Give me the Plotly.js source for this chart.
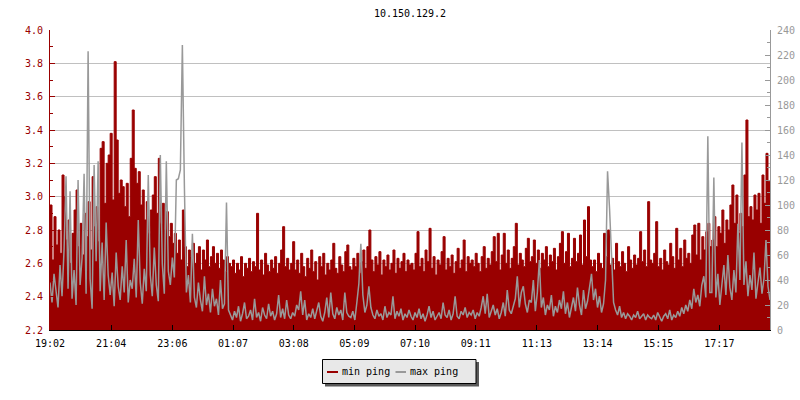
<!DOCTYPE html>
<html>
<head>
<meta charset="utf-8">
<script src="https://cdn.plot.ly/plotly-3.0.1.min.js"></script>
<style>html,body{margin:0;padding:0;background:#fff;}#chart{width:800px;height:400px;}</style>
</head>
<body>
<div id="chart"></div>
<script>
const chartTitle = '10.150.129.2';
const startTime = '19:02';
const stepMinutes = 4;
const timeLabels = ['19:02','21:04','23:06','01:07','03:08','05:09','07:10','09:11','11:13','13:14','15:15','17:17'];
const leftTicks = [2.2, 2.4, 2.6, 2.8, 3.0, 3.2, 3.4, 3.6, 3.8, 4.0];
const rightTicks = [0, 20, 40, 60, 80, 100, 120, 140, 160, 180, 200, 220, 240];
const seriesNames = ['min ping', 'max ping'];

// min ping (left axis), one value every 4 minutes
const minPing = [
2.95,2.62,2.88,2.71,2.80,2.66,3.13,3.00,2.74,2.86,2.60,2.78,2.92,3.04,2.70,2.84,2.65,2.90,2.76,2.97,2.68,3.12,2.82,2.94,2.73,3.29,3.33,2.96,3.20,3.25,
3.38,2.98,3.81,3.34,3.02,3.10,3.06,2.94,3.08,2.88,3.23,3.52,3.17,3.08,3.15,2.95,3.04,2.86,2.97,2.78,2.92,3.01,3.12,2.90,3.23,2.84,2.96,2.80,2.91,2.76,
2.84,2.72,2.78,2.66,2.74,2.62,2.92,2.70,2.58,2.68,2.64,2.72,2.60,2.66,2.70,2.56,2.68,2.62,2.74,2.58,2.64,2.70,2.60,2.66,2.57,2.68,2.62,2.55,2.64,2.60,
2.58,2.62,2.54,2.60,2.56,2.64,2.52,2.60,2.57,2.63,2.55,2.61,2.58,2.90,2.56,2.62,2.53,2.66,2.59,2.55,2.62,2.57,2.64,2.54,2.60,2.68,2.82,2.58,2.63,2.56,
2.60,2.73,2.56,2.62,2.54,2.66,2.58,2.52,2.63,2.57,2.68,2.55,2.61,2.50,2.64,2.58,2.66,2.53,2.60,2.56,2.62,2.72,2.57,2.54,2.64,2.59,2.55,2.67,2.71,2.58,
2.56,2.63,2.58,2.66,2.54,2.61,2.68,2.57,2.70,2.80,2.62,2.55,2.64,2.59,2.67,2.53,2.62,2.58,2.65,2.56,2.60,2.68,2.54,2.63,2.57,2.61,2.66,2.55,2.62,2.59,
2.60,2.56,2.66,2.79,2.58,2.63,2.55,2.68,2.61,2.81,2.57,2.64,2.53,2.62,2.59,2.67,2.76,2.56,2.63,2.58,2.65,2.54,2.61,2.69,2.57,2.62,2.74,2.55,2.64,2.60,
2.62,2.58,2.66,2.60,2.55,2.64,2.70,2.57,2.63,2.59,2.67,2.76,2.61,2.78,2.56,2.65,2.78,2.60,2.68,2.57,2.63,2.70,2.84,2.59,2.66,2.62,2.58,2.69,2.75,2.61,
2.64,2.74,2.60,2.68,2.57,2.66,2.62,2.70,2.58,2.65,2.61,2.69,2.56,2.64,2.72,2.79,2.60,2.67,2.78,2.58,2.63,2.75,2.61,2.66,2.77,2.59,2.86,2.64,2.94,2.62,
2.58,2.62,2.55,2.66,2.60,2.57,2.78,2.64,2.80,2.59,2.63,2.56,2.72,2.61,2.58,2.67,2.60,2.55,2.70,2.62,2.57,2.65,2.59,2.63,2.79,2.61,2.68,2.58,2.97,2.62,
2.60,2.66,2.85,2.58,2.63,2.56,2.68,2.61,2.59,2.72,2.64,2.57,2.81,2.62,2.69,2.58,2.74,2.63,2.66,2.60,2.77,2.83,2.65,2.84,2.62,2.76,2.68,2.79,2.84,2.70,
2.74,2.88,2.70,2.82,2.78,2.92,2.72,2.86,2.80,2.95,3.07,2.84,3.01,2.78,2.90,2.82,3.13,3.46,2.88,2.94,2.86,3.01,2.92,3.02,2.84,3.13,2.96,3.26,3.09,3.07
];

// max ping (right axis), one value every 4 minutes
const maxPing = [
38,22,45,30,18,52,27,64,123,33,111,25,48,20,120,36,58,125,29,223,41,17,132,55,135,31,70,24,86,44,
28,46,19,62,35,24,51,30,72,22,40,33,57,26,88,38,21,49,31,124,44,27,66,36,23,140,53,29,135,47,
36,58,42,120,121,128,228,116,30,44,22,77,26,18,38,24,15,43,20,29,14,33,19,25,12,40,17,21,102,16,
12,8,15,10,19,7,13,22,9,11,16,8,25,10,14,7,18,12,9,21,11,15,8,13,28,10,17,9,24,12,
9,14,11,20,16,31,12,24,8,13,10,17,9,15,22,11,7,14,26,10,30,13,9,18,12,16,8,30,14,11,
10,15,8,22,37,69,28,14,20,35,18,12,9,16,11,13,8,19,10,14,12,27,9,15,11,17,8,13,10,16,
11,8,14,10,17,9,13,7,12,19,10,15,8,11,14,9,22,12,10,16,8,13,27,11,9,15,12,18,10,14,
12,16,9,14,11,18,27,13,29,10,15,20,12,17,9,14,22,11,32,16,13,19,25,43,18,30,35,21,14,24,
22,40,15,30,56,18,26,12,20,16,28,11,19,14,24,17,31,13,22,10,18,26,15,34,20,12,32,17,23,35,
45,24,33,18,27,14,21,40,127,97,59,22,16,12,19,10,14,9,13,11,8,12,10,15,9,11,13,8,12,10,
9,12,8,14,10,7,11,13,9,16,8,12,10,15,11,18,13,20,15,24,17,33,22,28,19,36,43,26,155,30,
30,122,26,45,20,38,52,28,60,34,24,48,30,85,40,150,36,55,27,44,32,62,25,38,50,29,41,72,35,24
];

function toMin(s){ const p = s.split(':'); return (+p[0])*60 + (+p[1]); }
const t0 = toMin(startTime);
const minutesSince = s => ((toMin(s) - t0) % 1440 + 1440) % 1440;
const xs = minPing.map((_, i) => i * stepMinutes);
const tickVals = timeLabels.map(minutesSince);

const RED = '#990000', GRAY = '#999999';
const FONT = 'DejaVu Sans Mono, monospace';

// pixel -> paper helpers (plot area: x 50..770, y 30..330)
const PL = 50, PR = 770, PT = 30, PB = 330;
const px = p => (p - PL) / (PR - PL);
const py = p => (PB - p) / (PB - PT);

const traces = [
  { x: xs, y: minPing, type: 'scatter', mode: 'lines', name: seriesNames[0],
    line: { color: RED, width: 1, shape: 'hv' }, fill: 'tozeroy', fillcolor: RED,
    hoverinfo: 'skip' },
  { x: xs, y: maxPing, type: 'scatter', mode: 'lines', name: seriesNames[1], yaxis: 'y2',
    line: { color: GRAY, width: 1.5, shape: 'linear' }, hoverinfo: 'skip' }
];

const layout = {
  width: 800, height: 400,
  margin: { l: PL, r: 800 - PR, t: PT, b: 400 - PB, pad: 0 },
  paper_bgcolor: '#ffffff', plot_bgcolor: '#ffffff',
  showlegend: false,
  font: { family: FONT, size: 10, color: '#000' },
  title: { text: chartTitle, font: { family: FONT, size: 10, color: '#000' },
           x: 0.5, xref: 'paper', xanchor: 'center', y: 1 - 13.5/400, yref: 'container', yanchor: 'middle' },
  xaxis: {
    range: [0, xs[xs.length - 1]], tickmode: 'array', tickvals: tickVals, ticktext: timeLabels,
    ticks: 'inside', ticklen: 5, tickcolor: '#000', tickwidth: 1,
    showline: true, linecolor: '#000', linewidth: 1, showgrid: false, zeroline: false,
    tickfont: { family: FONT, size: 10, color: '#000' }, ticklabelstandoff: 4, fixedrange: true
  },
  yaxis: {
    range: [2.2, 4.0], tickmode: 'array', tickvals: leftTicks, ticktext: leftTicks.map(v => v.toFixed(1)),
    ticks: 'inside', ticklen: 5, tickcolor: RED, tickwidth: 1,
    minor: { dtick: 0.1, ticks: 'inside', ticklen: 3, tickcolor: RED, showgrid: false },
    showline: true, linecolor: RED, linewidth: 1,
    showgrid: true, gridcolor: '#c0c0c0', gridwidth: 1, zeroline: false,
    tickfont: { family: FONT, size: 10, color: RED }, ticklabelstandoff: 4, fixedrange: true
  },
  yaxis2: {
    overlaying: 'y', side: 'right',
    range: [0, 240], tickmode: 'array', tickvals: rightTicks,
    ticks: 'inside', ticklen: 5, tickcolor: GRAY, tickwidth: 1,
    minor: { dtick: 10, ticks: 'inside', ticklen: 3, tickcolor: GRAY, showgrid: false },
    showline: true, linecolor: GRAY, linewidth: 1, showgrid: false, zeroline: false,
    tickfont: { family: FONT, size: 10, color: GRAY }, ticklabelstandoff: 4, fixedrange: true
  },
  shapes: [
    { type: 'rect', xref: 'paper', yref: 'paper', x0: px(325), x1: px(479), y0: py(362), y1: py(386.5),
      fillcolor: '#595959', line: { width: 0 }, layer: 'above' },
    { type: 'rect', xref: 'paper', yref: 'paper', x0: px(322.5), x1: px(476), y0: py(359.5), y1: py(383.5),
      fillcolor: '#e8e8e8', line: { color: '#000', width: 1 }, layer: 'above' },
    { type: 'line', xref: 'paper', yref: 'paper', x0: px(327), x1: px(338), y0: py(372), y1: py(372),
      line: { color: RED, width: 2 }, layer: 'above' },
    { type: 'line', xref: 'paper', yref: 'paper', x0: px(395.5), x1: px(406), y0: py(372), y1: py(372),
      line: { color: GRAY, width: 2 }, layer: 'above' }
  ],
  annotations: [
    { xref: 'paper', yref: 'paper', x: px(340.5), y: py(371), xanchor: 'left', yanchor: 'middle',
      text: seriesNames[0], showarrow: false, font: { family: FONT, size: 10, color: '#000' }, borderpad: 0 },
    { xref: 'paper', yref: 'paper', x: px(408.5), y: py(371), xanchor: 'left', yanchor: 'middle',
      text: seriesNames[1], showarrow: false, font: { family: FONT, size: 10, color: '#000' }, borderpad: 0 }
  ]
};

Plotly.newPlot('chart', traces, layout, { staticPlot: true, displayModeBar: false });
</script>
</body>
</html>
